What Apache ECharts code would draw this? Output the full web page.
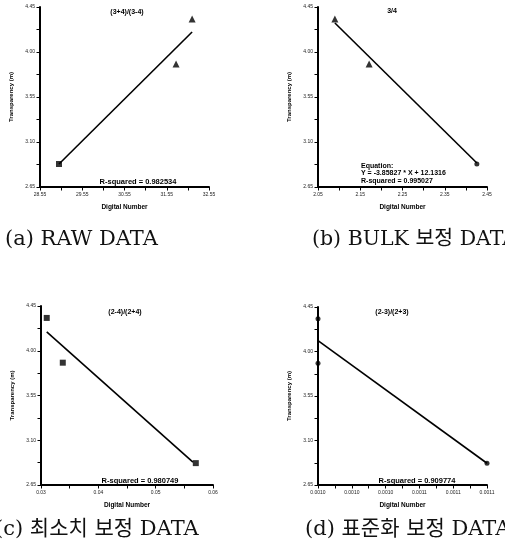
<!DOCTYPE html>
<html><head><meta charset="utf-8">
<script src="https://cdn.jsdelivr.net/npm/echarts@6/dist/echarts.min.js"></script>
<style>html,body{margin:0;padding:0;background:#fff}#c{width:505px;height:555px}</style>
</head><body><div id="c"></div>
<script>
// ---- Panel (a) RAW DATA ----
const aX = [29.00, 31.77, 32.15];
const aY = [2.88, 3.88, 4.33];
const aFitX = [29.00, 32.15];
const aFitY = [2.88, 4.20];
const aXTicks = [28.55, 29.55, 30.55, 31.55, 32.55];
// ---- Panel (b) BULK ----
const bX = [2.090, 2.171, 2.426];
const bY = [4.33, 3.88, 2.88];
const bFitX = [2.090, 2.426];
const bFitY = [4.29, 2.89];
const bXTicks = [2.05, 2.15, 2.25, 2.35, 2.45];
// ---- Panel (c) minimum ----
const cX = [0.0310, 0.0338, 0.0570];
const cY = [4.33, 3.88, 2.87];
const cFitX = [0.0310, 0.0565];
const cFitY = [4.19, 2.88];
const cXTicks = [0.03, 0.04, 0.05, 0.06];
// ---- Panel (d) standardized ----
const dX = [0.00100, 0.00100, 0.00110];
const dY = [4.33, 3.88, 2.87];
const dFitX = [0.00100, 0.00110];
const dFitY = [4.11, 2.87];
const dXTicks = [0.00100, 0.00102, 0.00104, 0.00106, 0.00108, 0.00110];
// ---- shared ----
const yTicks = [2.65, 3.10, 3.55, 4.00, 4.45];
const titles = ['(3+4)/(3-4)', '3/4', '(2-4)/(2+4)', '(2-3)/(2+3)'];
const rSquared = ['0.982534', '0.995027', '0.980749', '0.909774'];
const equationB = 'Y = -3.85827 * X + 12.1316';
const captions = ['(a) RAW DATA', '(b) BULK 보정 DATA', '(c) 최소치 보정 DATA', '(d) 표준화 보정 DATA'];

const panels = [
  {x:aX, y:aY, fx:aFitX, fy:aFitY, xt:aXTicks, dec:2, sym:['rect','triangle','triangle'], size:[6,7,7]},
  {x:bX, y:bY, fx:bFitX, fy:bFitY, xt:bXTicks, dec:2, sym:['triangle','triangle','circle'], size:[7,7,5]},
  {x:cX, y:cY, fx:cFitX, fy:cFitY, xt:cXTicks, dec:2, sym:['rect','rect','rect'], size:[6,6,6]},
  {x:dX, y:dY, fx:dFitX, fy:dFitY, xt:dXTicks, dec:4, sym:['circle','circle','circle'], size:[5,5,5]}
];
const grids = [
  {left:40, top:7, width:169, height:180},
  {left:318, top:7, width:169, height:180},
  {left:41, top:306, width:172, height:179},
  {left:318, top:307, width:169, height:178}
];
const withMids = t => t.concat(t.slice(1).map((v,i)=>(v+t[i])/2));
const FONT = "'Liberation Sans', Arial, sans-serif";
const xAxis = [], yAxis = [], series = [];
panels.forEach((p, i) => {
  const xmin = p.xt[0], xmax = p.xt[p.xt.length-1];
  xAxis.push({
    type:'value', gridIndex:i, min:xmin, max:xmax, position:'bottom',
    axisLine:{show:true, onZero:false, lineStyle:{color:'#000', width:2}},
    axisTick:{show:true, length:3.5, customValues:withMids(p.xt), lineStyle:{color:'#000', width:1}},
    axisLabel:{show:true, customValues:p.xt, fontSize:5, color:'#222', margin:5,
      fontFamily:FONT, formatter:v=>Number(v).toFixed(p.dec)},
    splitLine:{show:false},
    name:'Digital Number', nameLocation:'middle', nameGap:17,
    nameTextStyle:{fontSize:6.5, fontWeight:'bold', fontFamily:FONT, color:'#000'}
  });
  yAxis.push({
    type:'value', gridIndex:i, min:yTicks[0], max:yTicks[yTicks.length-1], position:'left',
    axisLine:{show:true, onZero:false, lineStyle:{color:'#000', width:2}},
    axisTick:{show:true, length:3.5, customValues:withMids(yTicks), lineStyle:{color:'#000', width:1}},
    axisLabel:{show:true, customValues:yTicks, fontSize:5, color:'#222', margin:5,
      fontFamily:FONT, formatter:v=>Number(v).toFixed(2)},
    splitLine:{show:false},
    name:'Transparency (m)', nameLocation:'middle', nameGap:26,
    nameTextStyle:{fontSize:6, fontWeight:'bold', fontFamily:FONT, color:'#000'}
  });
  series.push({
    type:'line', xAxisIndex:i, yAxisIndex:i, symbol:'none', silent:true,
    lineStyle:{color:'#000', width:1.6}, clip:false,
    data:p.fx.map((v,k)=>[v, p.fy[k]])
  });
  series.push({
    type:'scatter', xAxisIndex:i, yAxisIndex:i, clip:false,
    itemStyle:{color:'#000'},
    data:p.x.map((v,k)=>({value:[v, p.y[k]], symbol:p.sym[k], symbolSize:p.size[k]}))
  });
});

const tStyle = (s, extra) => Object.assign({text:s, font:'bold 7px ' + FONT, fill:'#000'}, extra||{});
const titlePos = [[127,12],[392,11],[125,312],[392,312]];
const rPos = [[138,182],null,[140,481],[417,481]];
const graphic = [];
titles.forEach((t,i)=>{
  graphic.push({type:'text', x:titlePos[i][0], y:titlePos[i][1], style:tStyle(t,{align:'center', verticalAlign:'middle'})});
});
rSquared.forEach((r,i)=>{
  if (rPos[i]) graphic.push({type:'text', x:rPos[i][0], y:rPos[i][1], style:tStyle('R-squared = ' + r, {align:'center', verticalAlign:'middle', font:'bold 7.5px ' + FONT})});
});
graphic.push({type:'text', x:361, y:166, style:tStyle('Equation:', {align:'left', verticalAlign:'middle', font:'bold 7px ' + FONT})});
graphic.push({type:'text', x:361, y:173.5, style:tStyle(equationB, {align:'left', verticalAlign:'middle', font:'bold 7px ' + FONT})});
graphic.push({type:'text', x:361, y:181, style:tStyle('R-squared = ' + rSquared[1], {align:'left', verticalAlign:'middle', font:'bold 7px ' + FONT})});
const capPos = [[5,240,21],[312,240,20.5],[-5,530,21],[305,530,21]];
captions.forEach((c,i)=>{
  graphic.push({type:'text', x:capPos[i][0], y:capPos[i][1],
    style:{text:c, font:capPos[i][2] + "px 'DejaVu Serif', 'Liberation Serif', 'Noto Sans CJK KR', serif", fill:'#111', align:'left', verticalAlign:'middle'}});
});

const chart = echarts.init(document.getElementById('c'), null, {renderer:'canvas'});
chart.setOption({
  animation:false, backgroundColor:'#fff',
  grid:grids, xAxis:xAxis, yAxis:yAxis, series:series, graphic:graphic
});
</script></body></html>
